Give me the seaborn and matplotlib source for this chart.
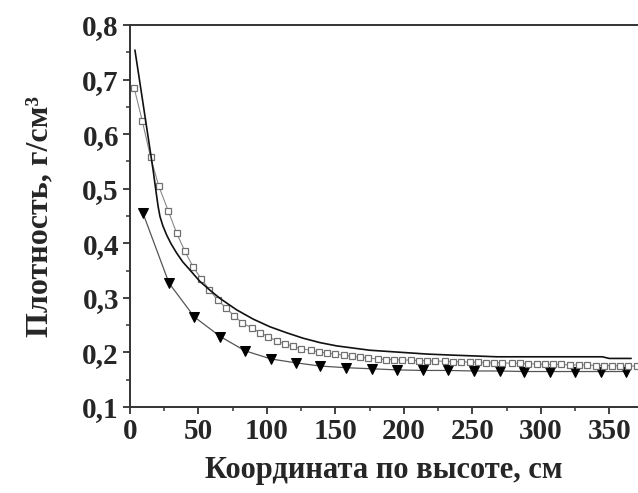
import matplotlib
matplotlib.use("Agg")
import matplotlib.pyplot as plt
import seaborn as sns
import pandas as pd
from matplotlib.ticker import MultipleLocator, FuncFormatter

# Density profiles along the column height
calc_x = [3.6, 7.0, 10.5, 14.0, 17.0, 19.0, 20.5, 21.9, 24.0, 26.8, 30.0,
          34.1, 38.5, 43.8, 51.1, 58.4, 65.7, 77.9, 90.0, 102.2, 114.4, 126.5,
          138.7, 150.9, 163.0, 175.2, 199.0, 217.0, 236.0, 268.0, 300.0, 345.0,
          350.0, 366.0]
calc_y = [0.754, 0.698, 0.640, 0.582, 0.532, 0.495, 0.468, 0.449, 0.432, 0.415,
          0.399, 0.382, 0.366, 0.351, 0.330, 0.314, 0.299, 0.278, 0.261, 0.247,
          0.236, 0.226, 0.218, 0.212, 0.208, 0.204, 0.200, 0.197, 0.195, 0.192,
          0.192, 0.192, 0.189, 0.189]

sq_x = [3, 9, 15, 21, 28, 34, 40, 46, 52, 58, 64, 70, 76, 82, 89, 95, 101, 107,
        113, 119, 125, 132, 138, 144, 150, 156, 162, 168, 174, 181, 187, 193,
        199, 205, 211, 217, 223, 230, 236, 242, 248, 254, 260, 266, 272, 279,
        285, 291, 297, 303, 309, 315, 321, 328, 334, 340, 346, 352, 358, 364, 370]
sq_y = [0.685, 0.624, 0.558, 0.505, 0.459, 0.419, 0.386, 0.357, 0.335, 0.315,
        0.296, 0.282, 0.267, 0.254, 0.245, 0.236, 0.229, 0.221, 0.216, 0.211,
        0.207, 0.204, 0.201, 0.199, 0.197, 0.195, 0.193, 0.191, 0.190, 0.188,
        0.187, 0.187, 0.186, 0.186, 0.185, 0.185, 0.184, 0.184, 0.183, 0.183,
        0.182, 0.182, 0.181, 0.181, 0.181, 0.180, 0.180, 0.179, 0.179, 0.178,
        0.178, 0.178, 0.177, 0.177, 0.177, 0.176, 0.176, 0.176, 0.175, 0.175, 0.175]

tri_x = [9.5, 28.5, 47, 66, 84, 103, 121, 139, 158, 177, 195, 214, 232, 251,
         270, 288, 307, 325, 344, 362]
tri_y = [0.455, 0.327, 0.265, 0.229, 0.203, 0.188, 0.181, 0.175, 0.172, 0.170,
         0.168, 0.167, 0.167, 0.166, 0.166, 0.165, 0.165, 0.165, 0.165, 0.165]

x_ticks = [0, 50, 100, 150, 200, 250, 300, 350]
y_ticks = [0.1, 0.2, 0.3, 0.4, 0.5, 0.6, 0.7, 0.8]

sns.set_style("ticks")
plt.rcParams["font.family"] = ["Liberation Serif", "DejaVu Serif"]
plt.rcParams["font.weight"] = "bold"

fig = plt.figure(figsize=(6.38, 4.93), dpi=100)
ax = fig.add_axes([130 / 638, 1 - 407 / 493, 1 - 130 / 638, (407 - 25) / 493])

df_calc = pd.DataFrame({"x": calc_x, "y": calc_y})
df_sq = pd.DataFrame({"x": sq_x, "y": sq_y})
df_tri = pd.DataFrame({"x": tri_x, "y": tri_y})

sns.lineplot(data=df_tri, x="x", y="y", ax=ax, sort=False, estimator=None,
             color="#555555", linewidth=0.9, marker="v", markersize=7,
             markerfacecolor="black", markeredgecolor="black")
sns.lineplot(data=df_sq, x="x", y="y", ax=ax, sort=False, estimator=None,
             color="#888888", linewidth=0.8, marker="s", markersize=4.6,
             markerfacecolor="white", markeredgecolor="#707070",
             markeredgewidth=0.9)
sns.lineplot(data=df_calc, x="x", y="y", ax=ax, sort=False, estimator=None,
             color="#111111", linewidth=1.2)

ax.set_xlim(0, 371)
ax.set_ylim(0.1, 0.8)
ax.set_xticks(x_ticks)
ax.set_yticks(y_ticks)
ax.xaxis.set_minor_locator(MultipleLocator(25))
ax.yaxis.set_minor_locator(MultipleLocator(0.05))
ax.yaxis.set_major_formatter(FuncFormatter(lambda v, p: f"{v:.1f}".replace(".", ",")))
ax.tick_params(which="major", direction="out", length=5, width=1.3,
               labelsize=21, pad=3, color="#333333")
ax.tick_params(which="minor", direction="out", length=3, width=1.1, color="#333333")
for lab in ax.get_xticklabels() + ax.get_yticklabels():
    lab.set_fontweight("bold")

for side in ("left", "top", "bottom"):
    ax.spines[side].set_linewidth(1.4)
    ax.spines[side].set_color("#333333")
ax.spines["right"].set_visible(False)

ax.set_xlabel("Координата по высоте, см", fontsize=22, fontweight="bold", labelpad=8)
ax.set_ylabel("Плотность, г/см³", fontsize=23, fontweight="bold", labelpad=20)

fig.savefig("out.png", dpi=100)
